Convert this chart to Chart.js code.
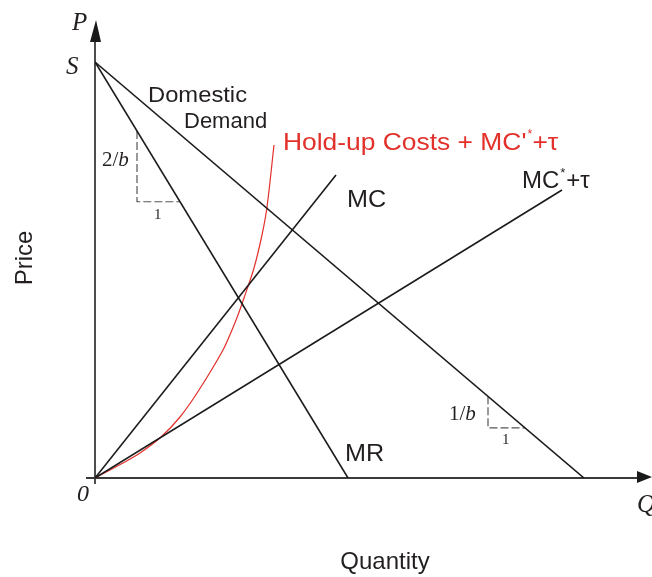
<!DOCTYPE html>
<html>
<head>
<meta charset="utf-8">
<script src="https://cdn.jsdelivr.net/npm/chart.js@4.4.0/dist/chart.umd.min.js"></script>
<style>
  html, body { margin: 0; padding: 0; background: #fff; }
  #wrap { width: 652px; height: 577px; position: relative; }
</style>
</head>
<body>
<div id="wrap"><canvas id="grafico"></canvas></div>
<script>
// curvas (Q = quantidade, P = preço)
const demandaQ = [0, 489];
const demandaP = [416, 0];
const mrQ = [0, 253];
const mrP = [416, 0];
const mcQ = [0, 241];
const mcP = [0, 303];
const mcEstrelaQ = [0, 467];
const mcEstrelaP = [0, 288];
const holdupQ = [0, 28, 45, 66, 85, 104, 128, 137, 143, 149, 159, 167, 172, 179];
const holdupP = [0, 15, 25, 41, 61, 88, 128, 148, 163, 180, 210, 243, 271, 333];

// triângulos de inclinação (posição em Q do lado vertical e do canto)
const triMrQ = [42, 85];
const triDemandaQ = [393, 430];

const corLinha = '#1c1a1b';
const corVermelha = '#e2302a';

function pontos(qs, ps) {
    return qs.map((q, i) => ({ x: q, y: ps[i] }));
}

// preço sobre uma reta de dois pontos
function precoNaReta(qs, ps, q) {
    return ps[0] + (ps[1] - ps[0]) * (q - qs[0]) / (qs[1] - qs[0]);
}

function triangulo(qs, ps, tri) {
    const topo = precoNaReta(qs, ps, tri[0]);
    const base = precoNaReta(qs, ps, tri[1]);
    return [{ x: tri[0], y: topo }, { x: tri[0], y: base }, { x: tri[1], y: base }];
}

function linha(dados, cor, extra) {
    return Object.assign({
        data: dados,
        showLine: true,
        borderColor: cor,
        borderWidth: 1.6,
        pointRadius: 0,
        fill: false
    }, extra || {});
}

// escreve texto com pequena compressão/expansão horizontal
function texto(ctx, t, x, y, fonte, cor, escala) {
    ctx.save();
    ctx.font = fonte;
    ctx.fillStyle = cor;
    ctx.textBaseline = 'alphabetic';
    ctx.translate(x, y);
    ctx.scale(escala || 1, 1);
    ctx.fillText(t, 0, 0);
    const w = ctx.measureText(t).width * (escala || 1);
    ctx.restore();
    return w;
}

const eixosPlugin = {
    id: 'eixos',
    beforeDatasetsDraw(chart) {
        const ctx = chart.ctx;
        const x0 = chart.scales.x.getPixelForValue(0);
        const y0 = chart.scales.y.getPixelForValue(0);
        const area = chart.chartArea;
        ctx.save();
        ctx.strokeStyle = '#3a3a3a';
        ctx.fillStyle = '#1a1a1a';
        ctx.lineWidth = 1.8;
        // eixo vertical
        ctx.beginPath();
        ctx.moveTo(x0, y0 + 6);
        ctx.lineTo(x0, area.top + 20);
        ctx.stroke();
        ctx.beginPath();
        ctx.moveTo(x0 + 1, area.top + 2);
        ctx.lineTo(x0 - 5, area.top + 24);
        ctx.lineTo(x0 + 6, area.top + 24);
        ctx.closePath();
        ctx.fill();
        // eixo horizontal
        ctx.beginPath();
        ctx.moveTo(x0 - 9, y0);
        ctx.lineTo(area.right - 12, y0);
        ctx.stroke();
        ctx.beginPath();
        ctx.moveTo(area.right, y0 - 1);
        ctx.lineTo(area.right - 15, y0 - 7);
        ctx.lineTo(area.right - 15, y0 + 5);
        ctx.closePath();
        ctx.fill();
        ctx.restore();
    },
    afterDatasetsDraw(chart) {
        const ctx = chart.ctx;
        const sans = '"Liberation Sans", Arial, sans-serif';
        const serif = '"Liberation Serif", "Times New Roman", serif';
        const preto = '#231f20';

        // letras dos eixos
        texto(ctx, 'P', 72, 30, 'italic 25px ' + serif, preto);
        texto(ctx, 'S', 66, 74, 'italic 25px ' + serif, preto);
        texto(ctx, '0', 77, 501, 'italic 24px ' + serif, preto);
        texto(ctx, 'Q', 637, 512, 'italic 25px ' + serif, preto);

        // nomes das curvas
        texto(ctx, 'Domestic', 148, 102, '22px ' + sans, preto, 1.08);
        texto(ctx, 'Demand', 184, 128, '22px ' + sans, preto, 1.0);
        texto(ctx, 'MC', 347, 207, '24px ' + sans, preto, 1.05);
        texto(ctx, 'MR', 345, 461, '24px ' + sans, preto, 1.05);

        let x = 522;
        x += texto(ctx, 'MC', x, 188, '24px ' + sans, preto, 1.0);
        texto(ctx, '*', x + 1, 177, '13px ' + sans, preto);
        texto(ctx, '+\u03c4', x + 7, 188, '24px ' + sans, preto, 1.0);

        x = 283;
        x += texto(ctx, "Hold-up Costs + MC'", x, 150, '24px ' + sans, corVermelha, 1.1);
        texto(ctx, '*', x + 1, 138, '12px ' + sans, corVermelha);
        texto(ctx, '+\u03c4', x + 6, 150, '24px ' + sans, corVermelha, 1.1);

        // rótulos dos triângulos
        x = 102;
        x += texto(ctx, '2/', x, 166, '21px ' + serif, preto);
        texto(ctx, 'b', x, 166, 'italic 21px ' + serif, preto);
        texto(ctx, '1', 154, 219, '15px ' + serif, preto);
        x = 449;
        x += texto(ctx, '1/', x, 420, '21px ' + serif, preto);
        texto(ctx, 'b', x, 420, 'italic 21px ' + serif, preto);
        texto(ctx, '1', 502, 444, '15px ' + serif, preto);

        // títulos dos eixos
        ctx.save();
        ctx.translate(32, 258);
        ctx.rotate(-Math.PI / 2);
        ctx.font = '24px ' + sans;
        ctx.fillStyle = preto;
        ctx.textAlign = 'center';
        ctx.fillText('Price', 0, 0);
        ctx.restore();
        ctx.save();
        ctx.font = '24px ' + sans;
        ctx.fillStyle = preto;
        ctx.textAlign = 'center';
        ctx.fillText('Quantity', 385, 569);
        ctx.restore();
    }
};

document.addEventListener('DOMContentLoaded', function () {
    const ctx = document.getElementById('grafico').getContext('2d');
    new Chart(ctx, {
        type: 'scatter',
        data: {
            datasets: [
                linha(pontos(demandaQ, demandaP), corLinha),
                linha(pontos(mrQ, mrP), corLinha),
                linha(pontos(mcQ, mcP), corLinha),
                linha(pontos(mcEstrelaQ, mcEstrelaP), corLinha),
                linha(pontos(holdupQ, holdupP), corVermelha, { borderWidth: 1.2, tension: 0.3 }),
                linha(triangulo(mrQ, mrP, triMrQ), '#555', { borderWidth: 1.2, borderDash: [8, 3] }),
                linha(triangulo(demandaQ, demandaP, triDemandaQ), '#555', { borderWidth: 1.2, borderDash: [8, 3] })
            ]
        },
        options: {
            responsive: true,
            maintainAspectRatio: false,
            animation: false,
            layout: { padding: { left: 95, top: 18, right: 0, bottom: 99 } },
            plugins: {
                legend: { display: false },
                tooltip: { enabled: false }
            },
            scales: {
                x: { type: 'linear', min: 0, max: 557, display: false },
                y: { type: 'linear', min: 0, max: 460, display: false }
            }
        },
        plugins: [eixosPlugin]
    });
});
</script>
</body>
</html>
